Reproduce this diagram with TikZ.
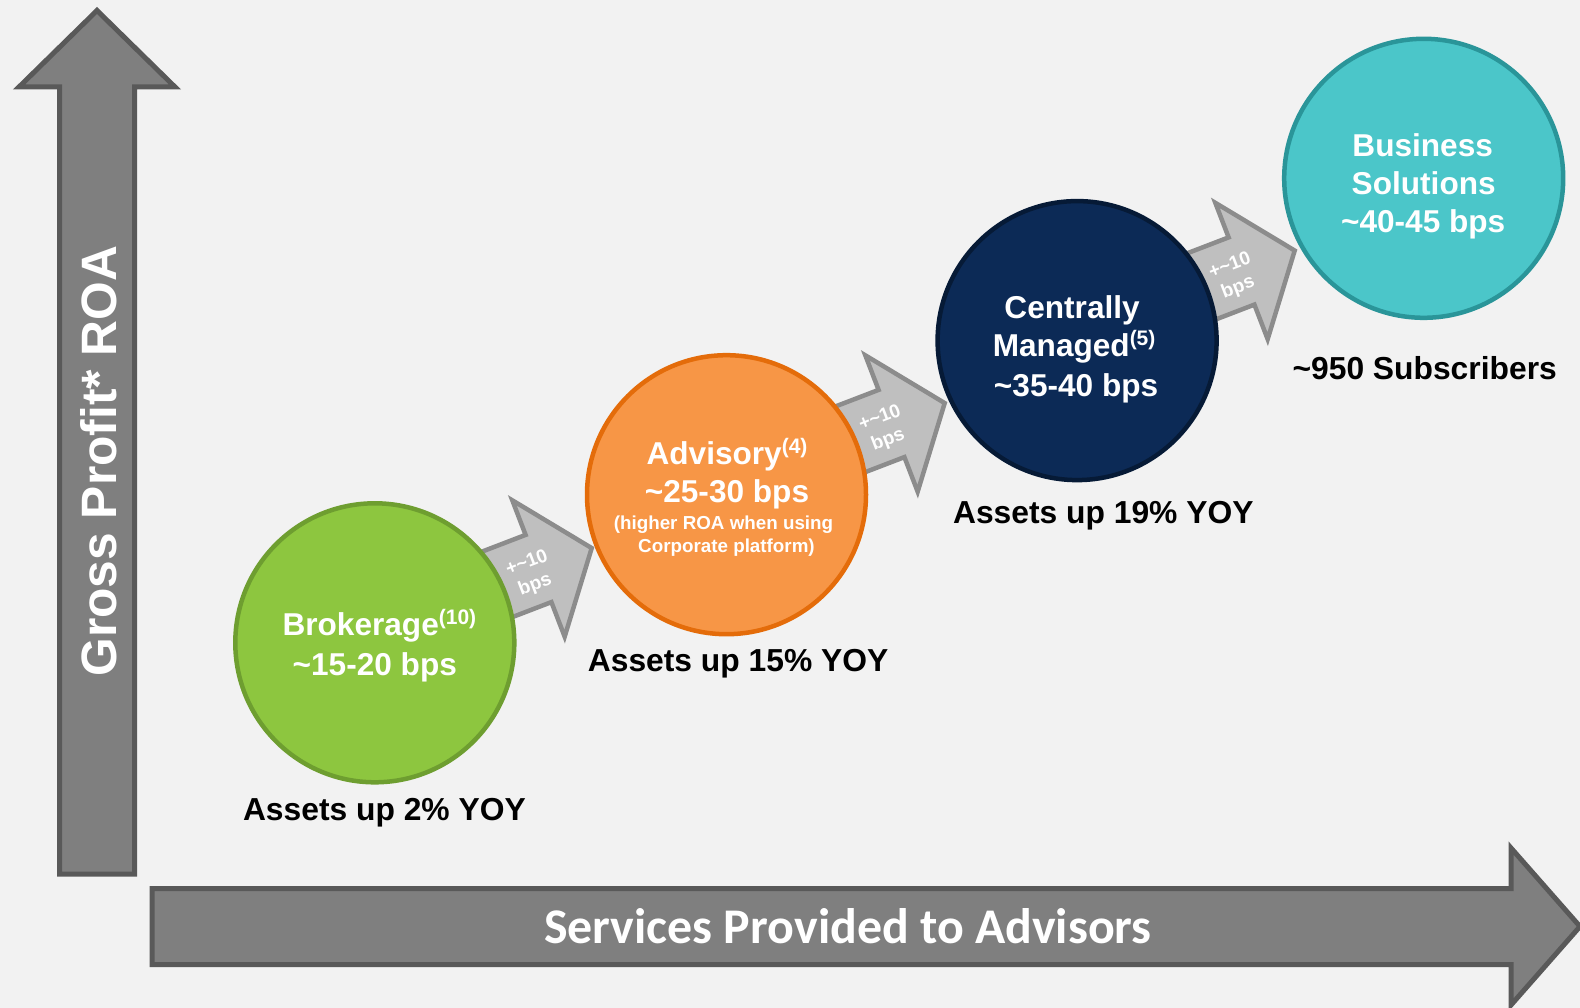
\documentclass[tikz,border=0pt]{standalone}
\usepackage{fontspec}
\setmainfont{Liberation Sans}
\newfontfamily\carlito{Carlito}
\usetikzlibrary{calc}
\definecolor{bgc}{HTML}{F2F2F2}
\definecolor{axisfill}{HTML}{7F7F7F}
\definecolor{axisline}{HTML}{595959}
\definecolor{stepfill}{HTML}{BFBFBF}
\definecolor{stepline}{HTML}{8C8C8C}
\definecolor{grfill}{HTML}{8DC63F}
\definecolor{grline}{HTML}{6E9E30}
\definecolor{orfill}{HTML}{F79646}
\definecolor{orline}{HTML}{E46C0A}
\definecolor{nvfill}{HTML}{0C2A56}
\definecolor{nvline}{HTML}{061A36}
\definecolor{tlfill}{HTML}{4BC6C9}
\definecolor{tlline}{HTML}{2A9599}
\newcommand{\supr}[1]{\raisebox{11pt}{\fontsize{21}{21}\selectfont #1}}
\newcommand{\steparr}[2]{%
  \coordinate (#1) at #2;
  \begin{scope}[shift={(#1)}, rotate=21]
    \draw[steparrow] (-95,36) -- (0,36) -- (0,73) -- (57,0) -- (0,-73) -- (0,-36) -- (-95,-36) -- cycle;
    \node[steplabel] (#1t) at (-9,3) {+\textasciitilde10\\bps};
  \end{scope}}
\begin{document}
\begin{tikzpicture}[x=1pt,y=-1pt,
  bigarrow/.style={fill=axisfill, draw=axisline, line width=5pt, line join=miter},
  steparrow/.style={fill=stepfill, draw=stepline, line width=4.5pt, line join=miter},
  stage/.style={circle, minimum size=279pt, inner sep=0pt, line width=4.5pt},
  intext/.style={anchor=base, text=white, inner sep=0pt, font=\bfseries\fontsize{31.6}{31.6}\selectfont},
  smalltext/.style={anchor=base, text=white, inner sep=0pt, font=\bfseries\fontsize{18.8}{18.8}\selectfont},
  caption/.style={anchor=base, text=black, inner sep=0pt, font=\bfseries\fontsize{31.8}{31.8}\selectfont},
  steplabel/.style={text=white, align=center, inner sep=0pt, rotate=21, font=\bfseries\fontsize{19}{23}\selectfont},
  axistext/.style={text=white, inner sep=0pt, font=\bfseries\fontsize{49.7}{49.7}\selectfont},
  xaxistext/.style={anchor=base, text=white, inner sep=0pt, font=\carlito\bfseries\fontsize{49.9}{49.9}\selectfont}]
\fill[bgc] (0,0) rectangle (1580,1008);
\useasboundingbox (0,0) rectangle (1580,1008);

% vertical axis arrow
\draw[bigarrow] (59.5,874) -- (59.5,87) -- (19,87) -- (97,10.5) -- (175,87) -- (134.5,87) -- (134.5,874) -- cycle;
\node[axistext, rotate=90] (ylab) at (99,461) {Gross Profit* ROA};

% horizontal axis arrow
\draw[bigarrow] (152,888.5) -- (1511,888.5) -- (1511,848) -- (1580,926.5) -- (1511,1005) -- (1511,964.5) -- (152,964.5) -- cycle;
\node[xaxistext] (xlab) at (848,943.3) {Services Provided to Advisors};

% step arrows
\steparr{s1}{(538.5,568.5)}
\steparr{s2}{(891.5,423.5)}
\steparr{s3}{(1241.5,271)}

% stages
\node[stage, fill=grfill, draw=grline] (brk) at (374.8,642.8) {};
\node[stage, fill=orfill, draw=orline] (adv) at (726.5,494.7) {};
\node[stage, fill=nvfill, draw=nvline] (cm) at (1077.1,340.6) {};
\node[stage, fill=tlfill, draw=tlline] (bs) at (1423.7,178.3) {};

% stage texts
\node[intext] (brk1) at (379.4,635.8) {Brokerage\supr{(10)}};
\node[intext] (brk2) at (374.8,675.1) {\textasciitilde15-20 bps};

\node[intext] (adv1) at (727,464.5) {Advisory\supr{(4)}};
\node[intext] (adv2) at (727,502.8) {\textasciitilde25-30 bps};
\node[smalltext] (adv3) at (723.5,529) {(higher ROA when using};
\node[smalltext] (adv4) at (726.5,552.2) {Corporate platform)};

\node[intext] (cm1) at (1072.1,318.4) {Centrally};
\node[intext] (cm2) at (1074.1,356.7) {Managed\supr{(5)}};
\node[intext] (cm3) at (1076.1,396) {\textasciitilde35-40 bps};

\node[intext] (bs1) at (1422.7,156.2) {Business};
\node[intext] (bs2) at (1423.7,194.5) {Solutions};
\node[intext] (bs3) at (1423.2,232.8) {\textasciitilde40-45 bps};

% captions
\node[caption] (cap1) at (384.4,820.2) {Assets up 2\% YOY};
\node[caption] (cap2) at (738.1,671.1) {Assets up 15\% YOY};
\node[caption] (cap3) at (1103.3,523) {Assets up 19\% YOY};
\node[caption] (cap4) at (1424.7,379.9) {\textasciitilde950 Subscribers};
\end{tikzpicture}
\end{document}
